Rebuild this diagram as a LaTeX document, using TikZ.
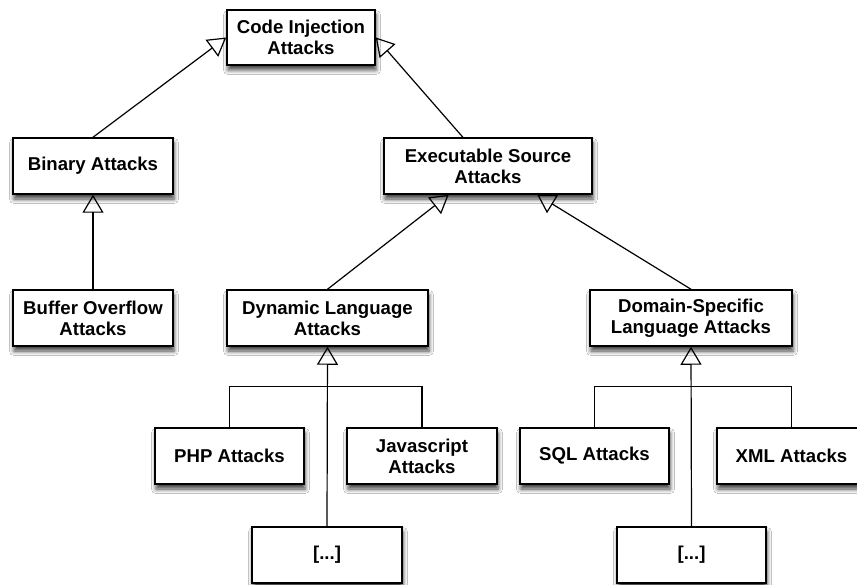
\documentclass[tikz,border=0pt]{standalone}
\usepackage{fontspec}
\setmainfont{Liberation Sans}
\usetikzlibrary{arrows.meta,shadows.blur,calc}
\tikzset{
  box/.style={draw=black, line width=1.5pt, fill=white, align=center,
    font=\bfseries\fontsize{18.6}{21}\selectfont, inner sep=0pt,
    minimum height=56pt,
    blur shadow={shadow xshift=1pt, shadow yshift=-5pt,
                 shadow blur radius=4.5pt, shadow opacity=75}},
  link/.style={line width=1.2pt},
  inh/.style={link, -{Triangle[open, length=18pt, width=21pt, line width=1.2pt]}}
}
\begin{document}
\begin{tikzpicture}[x=1pt, y=-1pt]
  \fill[white] (0,0) rectangle (857,585);
  \useasboundingbox (0,0) rectangle (857,585);

  % root
  \node[box, minimum width=148pt, minimum height=55pt] (ci) at (301,37.5) {Code Injection\\Attacks};

  % second level
  \node[box, minimum width=160pt] (bin)  at (93,166)  {Binary Attacks};
  \node[box, minimum width=208pt] (exec) at (488,166) {Executable Source\\Attacks};

  % third level
  \node[box, minimum width=160pt] (buf) at (93,318)    {Buffer Overflow\\Attacks};
  \node[box, minimum width=201pt] (dyn) at (327.5,318) {Dynamic Language\\Attacks};
  \node[box, minimum width=202pt] (dsl) at (691,318)   {Domain-Specific\\Language Attacks};

  % concrete languages
  \node[box, minimum width=149pt] (php) at (229.5,456) {PHP Attacks};
  \node[box, minimum width=150pt] (js)  at (422,456)   {Javascript\\Attacks};
  \node[box, minimum width=149pt] (sql) at (594.5,456) {SQL Attacks};
  \node[box, minimum width=149pt] (xml) at (791.5,456) {XML Attacks};

  % further languages
  \node[box, minimum width=150pt] (dynmore) at (327,555) {[...]};
  \node[box, minimum width=149pt] (dslmore) at (691.5,555) {[...]};

  % generalisation links
  \draw[inh] (bin.north) -- (ci.west);
  \draw[inh] ($(exec.north west)!0.38!(exec.north east)$) -- (ci.east);
  \draw[inh] (buf.north) -- (bin.south);
  \draw[inh] (dyn.north) -- ($(exec.south west)!0.3125!(exec.south east)$);
  \draw[inh] (dsl.north) -- ($(exec.south west)!0.735!(exec.south east)$);

  % grouped children of the dynamic languages
  \draw[link] (php.north) -- ++(0,-41) -| (js.north);
  \draw[inh] (dynmore.north) -- (dyn.south);

  % grouped children of the domain-specific languages
  \draw[link] (sql.north) -- ++(0,-41) -| (xml.north);
  \draw[inh] (dslmore.north) -- (dsl.south);
\end{tikzpicture}
\end{document}
